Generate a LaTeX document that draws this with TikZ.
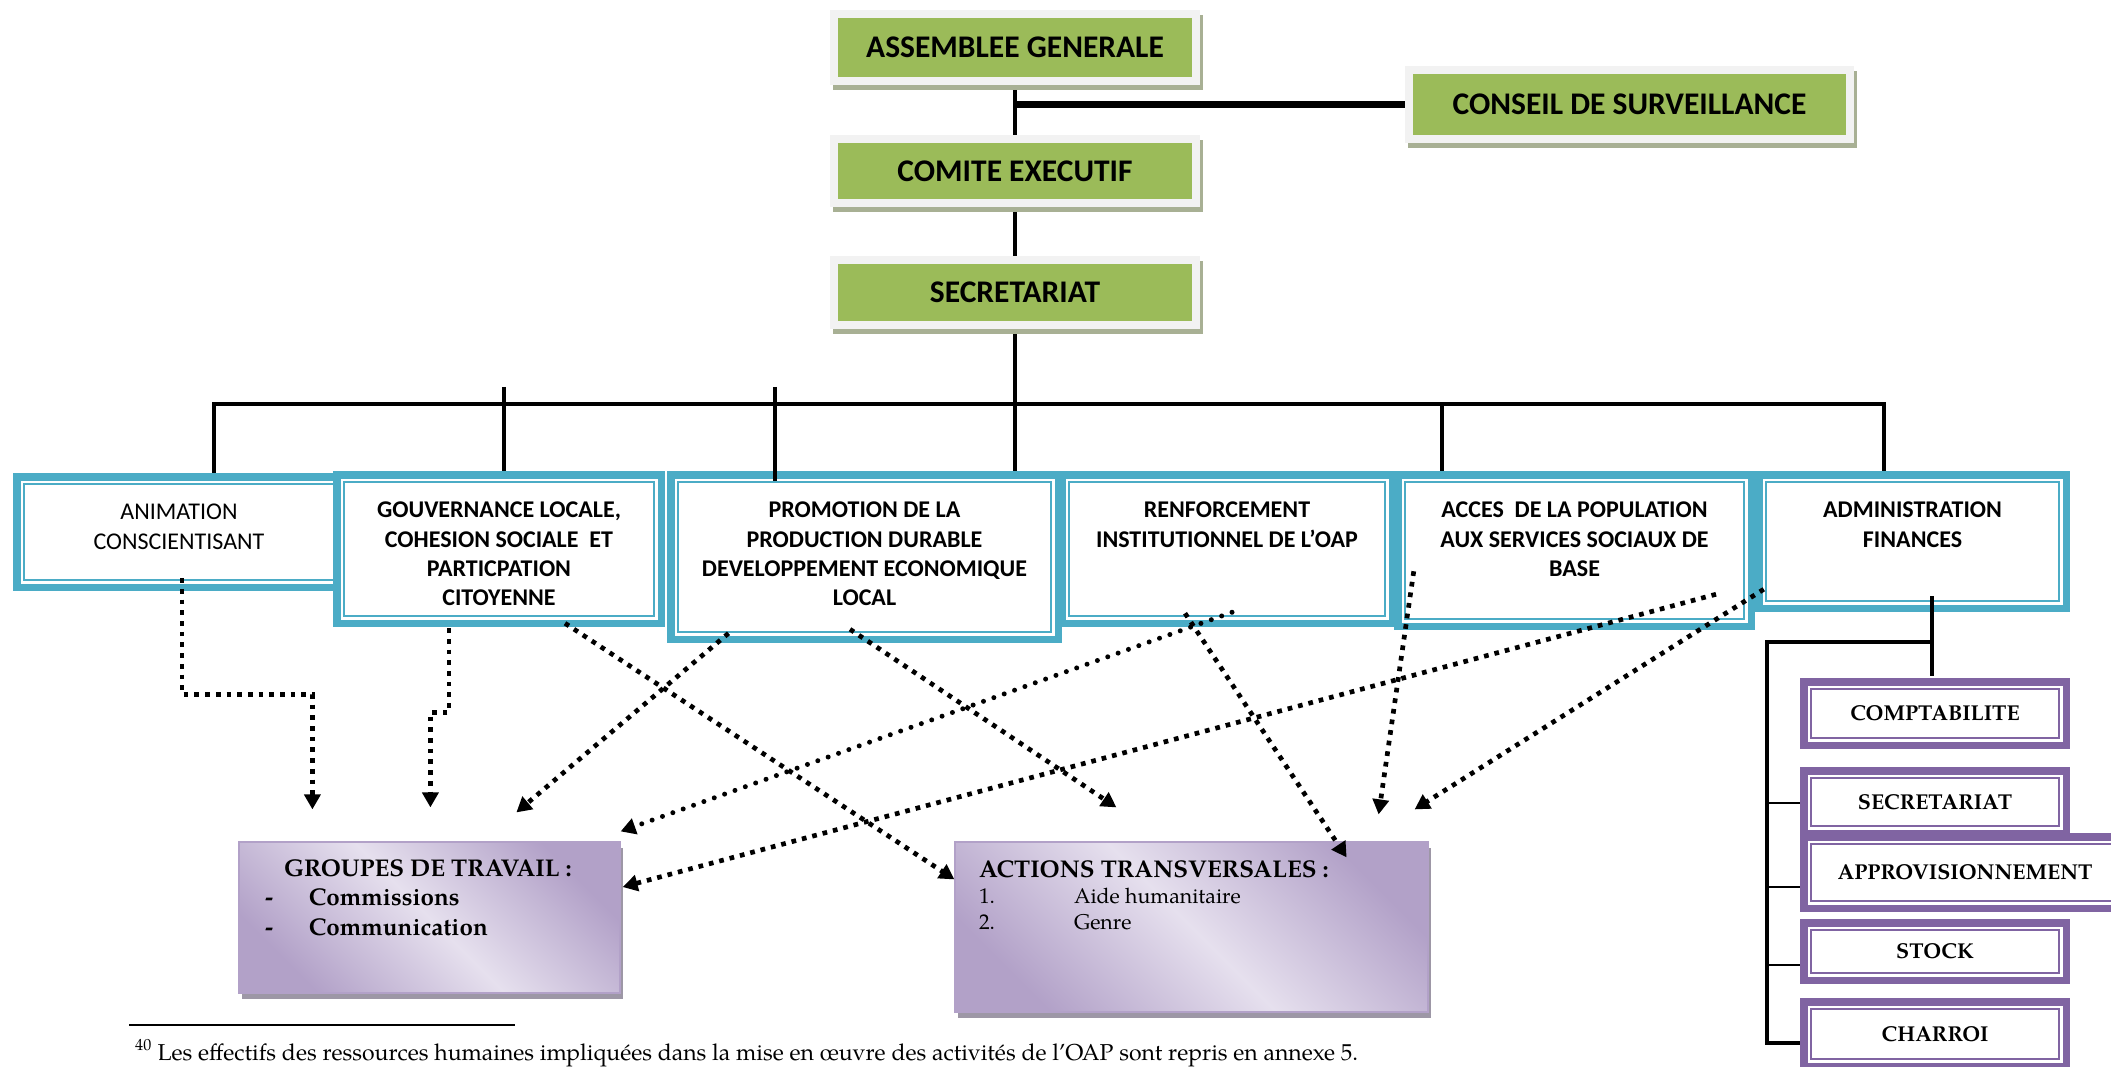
\documentclass[tikz,border=0pt]{standalone}
\usepackage{fontspec}
\setmainfont{Carlito}
\newfontfamily\pal{texgyrepagella}[Extension=.otf,UprightFont=*-regular,BoldFont=*-bold,ItalicFont=*-italic,BoldItalicFont=*-bolditalic]
\usetikzlibrary{arrows.meta,backgrounds,calc}
\definecolor{tealc}{HTML}{4BACC6}
\definecolor{purp}{HTML}{8064A2}
\definecolor{grn}{HTML}{9BBB59}
\definecolor{frm}{HTML}{F2F2F2}
\definecolor{shd}{HTML}{A8B094}
\definecolor{lavL}{HTML}{E6E0EE}
\definecolor{lavD}{HTML}{B2A1C8}
\definecolor{lshd}{HTML}{9D97A6}
\newcommand\boxtxt[3]{\parbox[c][#2pt][t]{#1pt}{\centering\rule{0pt}{35.7pt}#3}}
\begin{document}
\begin{tikzpicture}[x=1pt,y=-1pt]
\tikzset{
 greenbox/.style={fill=grn, inner sep=0pt, font=\fontsize{31.5}{36}\selectfont\bfseries,
   preaction={fill=shd, draw=shd, line width=16pt, line join=miter, transform canvas={shift={(3,5)}}},
   preaction={draw=frm, line width=16pt, line join=miter}},
 dblbox/.style={fill=white, draw=#1, line width=2.5pt, line join=miter, inner sep=0pt,
   preaction={draw=#1, line width=22pt, line join=miter},
   preaction={draw=white, line width=7pt, line join=miter}},
 tealbox/.style={dblbox=tealc, font=\fontsize{24}{29.3}\selectfont},
 purpbox/.style={dblbox=purp, font=\pal\bfseries\fontsize{21.5}{25}\selectfont},
 lavbox/.style={draw=lavD, line width=1.2pt, inner sep=0pt, top color=lavD, bottom color=lavD, middle color=lavL, shading angle=-45,
   preaction={fill=lshd, transform canvas={shift={(3,6)}}}},
 orgline/.style={line width=4.5pt, line join=miter},
 thickline/.style={line width=7pt},
 admline/.style={line width=4pt, line join=miter},
 thinline/.style={line width=2.3pt},
 sqdot/.style={line width=4.7pt, dash pattern=on 4.7pt off 6pt, -{Triangle[length=15pt,width=16pt]}},
 rddot/.style={line width=5pt, line cap=round, dash pattern=on 0pt off 11pt, -{Triangle[length=15pt,width=16pt]}},
}
\begin{pgfonlayer}{background}
\fill[white] (0,0) rectangle (2111,1066);
\end{pgfonlayer}
\useasboundingbox (0,0) rectangle (2111,1066);

% green boxes
\node[greenbox, minimum width=354, minimum height=59] (assemblee) at (1015,47.5) {ASSEMBLEE GENERALE};
\node[greenbox, minimum width=433, minimum height=61] (conseil) at (1629.5,104.5) {CONSEIL DE SURVEILLANCE};
\node[greenbox, minimum width=354, minimum height=56] (comite) at (1015,171) {COMITE EXECUTIF};
\node[greenbox, minimum width=354, minimum height=57] (secretariat) at (1015,292.5) {SECRETARIAT};

% teal boxes
\node[tealbox, minimum width=310, minimum height=96] (animation) at (179,532) {\boxtxt{310}{96}{ANIMATION\\CONSCIENTISANT}};
\node[tealbox, minimum width=310, minimum height=134] (gouvernance) at (499,549) {\boxtxt{310}{134}{\bfseries GOUVERNANCE LOCALE,\\COHESION SOCIALE\ \ ET\\PARTICPATION\\CITOYENNE}};
\node[tealbox, minimum width=373, minimum height=150] (promotion) at (864.5,557) {\boxtxt{373}{150}{\bfseries PROMOTION DE LA\\PRODUCTION DURABLE\\DEVELOPPEMENT ECONOMIQUE\\LOCAL}};
\node[tealbox, minimum width=316, minimum height=134] (renforcement) at (1227,549) {\boxtxt{316}{134}{\bfseries RENFORCEMENT\\INSTITUTIONNEL DE L’OAP}};
\node[tealbox, minimum width=339, minimum height=137] (acces) at (1574.5,550.5) {\boxtxt{339}{137}{\bfseries ACCES\ \ DE LA POPULATION\\AUX SERVICES SOCIAUX DE\\BASE}};
\node[tealbox, minimum width=293, minimum height=119] (admin) at (1912.5,541.5) {\boxtxt{293}{119}{\bfseries ADMINISTRATION\\FINANCES}};

% purple boxes
\node[purpbox, minimum width=248, minimum height=49] (comptabilite) at (1935,713.5) {COMPTABILITE};
\node[purpbox, minimum width=248, minimum height=48] (secr2) at (1935,802) {SECRETARIAT};
\node[purpbox, minimum width=308, minimum height=57] (approv) at (1965,872.5) {APPROVISIONNEMENT};
\node[purpbox, minimum width=248, minimum height=43] (stock) at (1935,951.5) {STOCK};
\node[purpbox, minimum width=248, minimum height=50] (charroi) at (1935,1034) {CHARROI};

% lavender boxes
\node[lavbox, minimum width=381, minimum height=151, font=\pal\bfseries\fontsize{24.2}{29.5}\selectfont] (groupes) at (429.5,917.5)
 {\parbox[c][151pt][t]{381pt}{\raggedright\rule{0pt}{34pt}\hspace*{45pt}GROUPES DE TRAVAIL :\\
  \hspace*{26pt}\makebox[44pt][l]{-}Commissions\\
  \hspace*{26pt}\makebox[44pt][l]{-}Communication}};
\node[lavbox, minimum width=473, minimum height=170, font=\pal\fontsize{21.3}{26}\selectfont] (actions) at (1191.5,927)
 {\parbox[c][170pt][t]{473pt}{\raggedright\rule{0pt}{35pt}\hspace*{24pt}{\bfseries\fontsize{24.2}{26}\selectfont ACTIONS TRANSVERSALES :}\\
  \hspace*{24pt}\makebox[95pt][l]{1.}Aide humanitaire\\
  \hspace*{24pt}\makebox[95pt][l]{2.}Genre}};

% solid connectors behind boxes
\begin{pgfonlayer}{background}
\draw[orgline] (assemblee) -- (comite);
\draw[orgline] (comite) -- (secretariat);
\draw[thickline] (conseil.west) -- (conseil.west -| assemblee.center);
\draw[orgline] (secretariat) -- (secretariat |- promotion.north);
\draw[orgline] ($(animation.north)+(35,0)$) -- ($(animation.north)+(35,-79)$) -- ($(admin.north)+(-28.5,-77)$) -- ($(admin.north)+(-28.5,0)$);
\draw[orgline] ($(gouvernance.north)+(5,-94)$) -- ($(gouvernance.north)+(5,0)$);
\draw[orgline] ($(acces.north)+(-132.5,-77)$) -- ($(acces.north)+(-132.5,0)$);
\coordinate (rv) at ($(admin.south)+(19.5,40)$);
\draw[admline] (rv) -| ($(charroi.west)+(-43,9)$) -- ($(charroi.west)+(0,9)$);
\draw[thinline] ($(secr2.west)+(-43,1)$) -- ($(secr2.west)+(0,1)$);
\draw[thinline] ($(approv.west)+(-43,14.5)$) -- ($(approv.west)+(0,14.5)$);
\draw[thinline] ($(stock.west)+(-43,13.5)$) -- ($(stock.west)+(0,13.5)$);
\end{pgfonlayer}

% solid connectors over boxes
\draw[orgline] ($(promotion.north)+(-89.5,-94)$) -- ($(promotion.north)+(-89.5,0)$);
\draw[admline] ($(admin.south)+(19.5,-6)$) -- ($(comptabilite.north)+(-3,-11.5)$);

% dotted connectors
\draw[sqdot] ($(animation.south)+(3,-3)$) -- ++(0,116) -| ($(groupes.north west)+(74,-32)$);
\draw[sqdot] ($(gouvernance.south)+(-50,11)$) -- ++(0,84) -| ($(groupes.north west)+(192,-34)$);
\draw[sqdot] ($(gouvernance.south)+(66,6)$) -- ($(actions.north west)+(0,38)$);
\draw[sqdot] ($(promotion.south)+(-136,0)$) -- ($(groupes.north west)+(278,-29)$);
\draw[sqdot] ($(promotion.south)+(-14.5,-4)$) -- ($(actions.north west)+(162,-34)$);
\draw[rddot] ($(renforcement.south)+(5,-5)$) -- ($(groupes.north east)+(0,-10)$);
\draw[sqdot] ($(renforcement.south)+(-42,-4)$) -- ($(actions.north east)+(-82,16)$);
\draw[sqdot] ($(acces.south west)+(10,-49)$) -- ($(actions.north east)+(-50,-27)$);
\draw[sqdot] ($(acces.south)+(141.5,-26)$) -- ($(groupes.east)+(2,-30.5)$);
\draw[sqdot] ($(admin.south west)+(-1,-13)$) -- ($(actions.north east)+(-14,-32)$);

% footnote
\draw[line width=1.5pt] (129,1025) -- (515,1025);
\node[anchor=base west, inner sep=0pt, font=\pal\fontsize{23}{26}\selectfont] (footnote) at (135,1060)
 {\textsuperscript{40} Les effectifs des ressources humaines impliquées dans la mise en œuvre des activités de l’OAP sont repris en annexe 5.};
\end{tikzpicture}
\end{document}
